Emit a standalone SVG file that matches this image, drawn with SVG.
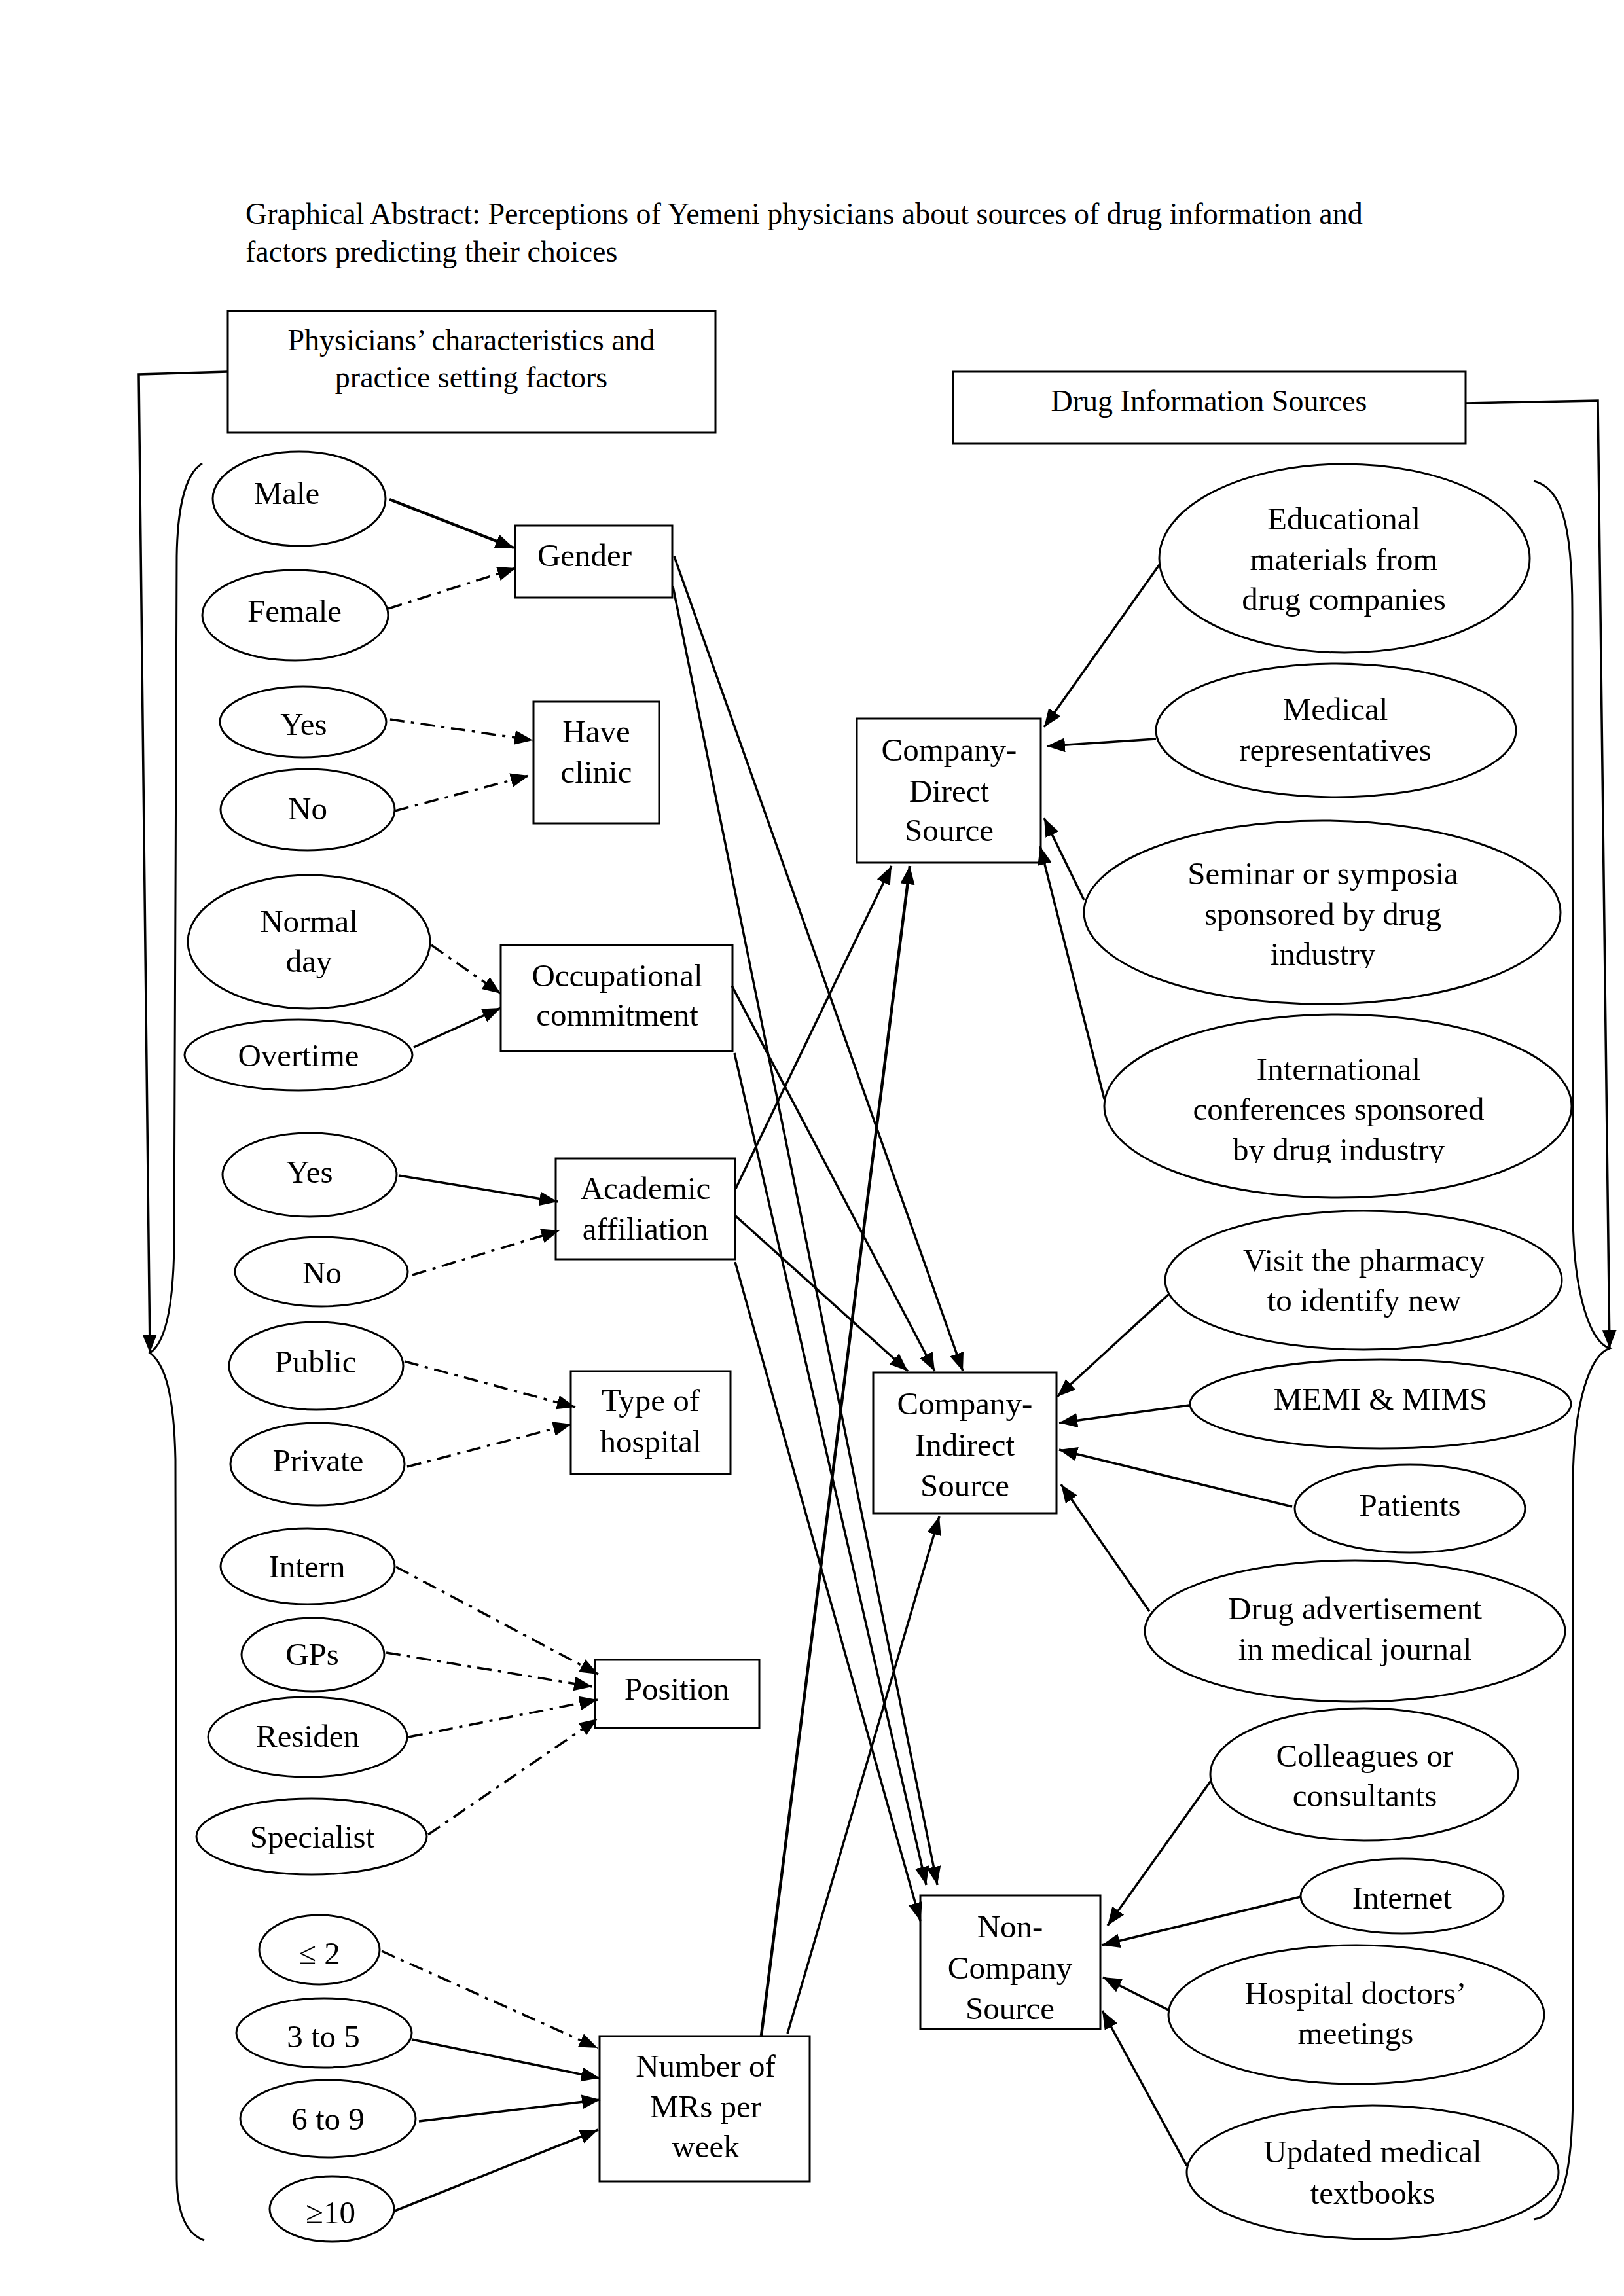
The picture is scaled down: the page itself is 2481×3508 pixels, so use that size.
<svg xmlns="http://www.w3.org/2000/svg" width="2481" height="3508" viewBox="0 0 2481 3508">
<style>
.shape{fill:#fff;stroke:#000;stroke-width:3}
.t{font-family:"Liberation Serif","Times New Roman",serif;font-size:49px;fill:#000;text-anchor:middle}
.h{font-family:"Liberation Serif","Times New Roman",serif;font-size:46px;fill:#000}
.c{stroke:#000;stroke-width:3.5;fill:none}
.dd{stroke-dasharray:22 10 5 10}
.brace{stroke:#000;stroke-width:3;fill:none}
</style>
<defs>
<marker id="ah" markerUnits="userSpaceOnUse" markerWidth="30" markerHeight="24" refX="28" refY="11" orient="auto" viewBox="0 0 30 24">
<path d="M0,0 L28,11 L0,22 z" fill="#000"/>
</marker>
<clipPath id="clipSem"><rect x="1650" y="1250" width="740" height="229"/></clipPath>
<clipPath id="clipInt"><rect x="1680" y="1545" width="730" height="232"/></clipPath>
</defs>
<rect width="2481" height="3508" fill="#fff"/>

<g id="title">
<text class="h" x="375" y="342">Graphical Abstract: Perceptions of Yemeni physicians about sources of drug information and</text>
<text class="h" x="375" y="400">factors predicting their choices</text>
</g>

<g id="header-left">
<rect class="shape" x="348" y="475" width="745" height="186"/>
<text class="h" x="720" y="535" text-anchor="middle">Physicians’ characteristics and</text>
<text class="h" x="720" y="592" text-anchor="middle">practice setting factors</text>
</g>
<g id="header-right">
<rect class="shape" x="1456" y="568" width="783" height="110"/>
<text class="h" x="1847" y="628" text-anchor="middle">Drug Information Sources</text>
</g>

<g id="braces">
<path class="brace" d="M309,708 C282,724 271,780 270,850 L266,1900 C265,2000 252,2052 229,2067 C252,2084 266,2130 268,2230 L270,3330 C271,3390 290,3415 312,3423"/>
<path class="brace" d="M2343,735 C2385,745 2402,800 2402,933 L2403,1857 C2404,1980 2430,2050 2459,2060 C2430,2070 2404,2140 2403,2264 L2403,3188 C2403,3330 2385,3385 2343,3391"/>
</g>

<g id="n-male"><ellipse class="shape" cx="457" cy="762" rx="132" ry="72"/><text class="t" x="438" y="770">Male</text></g>
<g id="n-female"><ellipse class="shape" cx="451" cy="940" rx="142" ry="69"/><text class="t" x="450" y="950">Female</text></g>
<g id="n-gender"><rect class="shape" x="787" y="803" width="240" height="110"/><text class="t" x="893" y="865">Gender</text></g>

<g id="n-clinic-yes"><ellipse class="shape" cx="463" cy="1103" rx="127" ry="54"/><text class="t" x="464" y="1123">Yes</text></g>
<g id="n-clinic-no"><ellipse class="shape" cx="470" cy="1237" rx="133" ry="62"/><text class="t" x="470" y="1252">No</text></g>
<g id="n-clinic"><rect class="shape" x="815" y="1072" width="192" height="186"/><text class="t" x="911" y="1134">Have</text><text class="t" x="911" y="1196">clinic</text></g>

<g id="n-normal"><ellipse class="shape" cx="472" cy="1439" rx="185" ry="102"/><text class="t" x="472" y="1424">Normal</text><text class="t" x="472" y="1485">day</text></g>
<g id="n-overtime"><ellipse class="shape" cx="456" cy="1612" rx="174" ry="54"/><text class="t" x="456" y="1629">Overtime</text></g>
<g id="n-occ"><rect class="shape" x="765" y="1444" width="354" height="162"/><text class="t" x="943" y="1507">Occupational</text><text class="t" x="943" y="1567">commitment</text></g>

<g id="n-acad-yes"><ellipse class="shape" cx="473" cy="1795" rx="133" ry="64"/><text class="t" x="473" y="1807">Yes</text></g>
<g id="n-acad-no"><ellipse class="shape" cx="491" cy="1943" rx="132" ry="53"/><text class="t" x="492" y="1961">No</text></g>
<g id="n-acad"><rect class="shape" x="849" y="1770" width="274" height="154"/><text class="t" x="986" y="1832">Academic</text><text class="t" x="986" y="1894">affiliation</text></g>

<g id="n-public"><ellipse class="shape" cx="483" cy="2087" rx="133" ry="67"/><text class="t" x="482" y="2097">Public</text></g>
<g id="n-private"><ellipse class="shape" cx="485" cy="2237" rx="133" ry="63"/><text class="t" x="486" y="2248">Private</text></g>
<g id="n-type"><rect class="shape" x="872" y="2095" width="244" height="157"/><text class="t" x="994" y="2156">Type of</text><text class="t" x="994" y="2219">hospital</text></g>

<g id="n-intern"><ellipse class="shape" cx="470" cy="2393" rx="133" ry="58"/><text class="t" x="469" y="2410">Intern</text></g>
<g id="n-gps"><ellipse class="shape" cx="478" cy="2528" rx="109" ry="56"/><text class="t" x="477" y="2544">GPs</text></g>
<g id="n-residen"><ellipse class="shape" cx="470" cy="2654" rx="152" ry="61"/><text class="t" x="470" y="2669">Residen</text></g>
<g id="n-specialist"><ellipse class="shape" cx="476" cy="2806" rx="176" ry="58"/><text class="t" x="477" y="2823">Specialist</text></g>
<g id="n-position"><rect class="shape" x="909" y="2536" width="251" height="104"/><text class="t" x="1034" y="2597">Position</text></g>

<g id="n-le2"><ellipse class="shape" cx="488" cy="2979" rx="92" ry="53"/><text class="t" x="488" y="3001">≤ 2</text></g>
<g id="n-3to5"><ellipse class="shape" cx="495" cy="3106" rx="134" ry="53"/><text class="t" x="494" y="3128">3 to 5</text></g>
<g id="n-6to9"><ellipse class="shape" cx="501" cy="3237" rx="134" ry="59"/><text class="t" x="501" y="3254">6 to 9</text></g>
<g id="n-ge10"><ellipse class="shape" cx="507" cy="3375" rx="95" ry="50"/><text class="t" x="505" y="3397">≥10</text></g>
<g id="n-mrs"><rect class="shape" x="916" y="3111" width="321" height="222"/><text class="t" x="1078" y="3173">Number of</text><text class="t" x="1078" y="3235">MRs per</text><text class="t" x="1078" y="3296">week</text></g>

<g id="n-cd"><rect class="shape" x="1309" y="1098" width="281" height="220"/><text class="t" x="1450" y="1162">Company-</text><text class="t" x="1450" y="1225">Direct</text><text class="t" x="1450" y="1285">Source</text></g>
<g id="n-ci"><rect class="shape" x="1334" y="2097" width="280" height="215"/><text class="t" x="1474" y="2161">Company-</text><text class="t" x="1474" y="2224">Indirect</text><text class="t" x="1474" y="2286">Source</text></g>
<g id="n-nc"><rect class="shape" x="1406" y="2896" width="275" height="204"/><text class="t" x="1543" y="2960">Non-</text><text class="t" x="1543" y="3023">Company</text><text class="t" x="1543" y="3085">Source</text></g>

<g id="n-edu"><ellipse class="shape" cx="2054" cy="853" rx="283" ry="144"/><text class="t" x="2053" y="809">Educational</text><text class="t" x="2053" y="871">materials from</text><text class="t" x="2053" y="932">drug companies</text></g>
<g id="n-medrep"><ellipse class="shape" cx="2041" cy="1116" rx="275" ry="102"/><text class="t" x="2040" y="1100">Medical</text><text class="t" x="2040" y="1162">representatives</text></g>
<g id="n-seminar"><ellipse class="shape" cx="2020" cy="1394" rx="364" ry="140"/><text class="t" x="2021" y="1351">Seminar or symposia</text><text class="t" x="2021" y="1413">sponsored by drug</text><text class="t" x="2021" y="1474" clip-path="url(#clipSem)">industry</text></g>
<g id="n-intl"><ellipse class="shape" cx="2044" cy="1690" rx="357" ry="140"/><text class="t" x="2045" y="1650">International</text><text class="t" x="2045" y="1711">conferences sponsored</text><text class="t" x="2045" y="1773" clip-path="url(#clipInt)">by drug industry</text></g>

<g id="n-visit"><ellipse class="shape" cx="2083" cy="1956" rx="303" ry="106"/><text class="t" x="2084" y="1942">Visit the pharmacy</text><text class="t" x="2084" y="2003">to identify new</text></g>
<g id="n-memi"><ellipse class="shape" cx="2109" cy="2145" rx="291" ry="68"/><text class="t" x="2109" y="2154">MEMI &amp; MIMS</text></g>
<g id="n-patients"><ellipse class="shape" cx="2154" cy="2305" rx="176" ry="67"/><text class="t" x="2154" y="2316">Patients</text></g>
<g id="n-drugad"><ellipse class="shape" cx="2070" cy="2492" rx="321" ry="108"/><text class="t" x="2070" y="2474">Drug advertisement</text><text class="t" x="2070" y="2536">in medical journal</text></g>

<g id="n-colleagues"><ellipse class="shape" cx="2084" cy="2711" rx="235" ry="101"/><text class="t" x="2085" y="2699">Colleagues or</text><text class="t" x="2085" y="2760">consultants</text></g>
<g id="n-internet"><ellipse class="shape" cx="2142" cy="2897" rx="155" ry="57"/><text class="t" x="2142" y="2916">Internet</text></g>
<g id="n-hospital"><ellipse class="shape" cx="2072" cy="3078" rx="287" ry="106"/><text class="t" x="2071" y="3062">Hospital doctors’</text><text class="t" x="2071" y="3123">meetings</text></g>
<g id="n-updated"><ellipse class="shape" cx="2097" cy="3319" rx="284" ry="102"/><text class="t" x="2097" y="3304">Updated medical</text><text class="t" x="2097" y="3367">textbooks</text></g>

<g id="connectors">
<polyline class="c" points="348,568 212,572 229,2067" marker-end="url(#ah)"/>
<polyline class="c" points="2239,616 2441,612 2459,2060" marker-end="url(#ah)"/>
<line class="c" style="stroke-width:4.5" x1="595" y1="763" x2="785" y2="837" marker-end="url(#ah)"/>
<line class="c dd" x1="593" y1="930" x2="788" y2="868" marker-end="url(#ah)"/>
<line class="c dd" x1="596" y1="1099" x2="814" y2="1131" marker-end="url(#ah)"/>
<line class="c dd" x1="603" y1="1239" x2="808" y2="1185" marker-end="url(#ah)"/>
<line class="c dd" x1="659" y1="1444" x2="765" y2="1518" marker-end="url(#ah)"/>
<line class="c" x1="632" y1="1600" x2="765" y2="1540" marker-end="url(#ah)"/>
<line class="c" x1="609" y1="1796" x2="852" y2="1836" marker-end="url(#ah)"/>
<line class="c dd" x1="630" y1="1948" x2="855" y2="1880" marker-end="url(#ah)"/>
<line class="c dd" x1="618" y1="2080" x2="879" y2="2150" marker-end="url(#ah)"/>
<line class="c dd" x1="622" y1="2241" x2="873" y2="2176" marker-end="url(#ah)"/>
<line class="c dd" x1="605" y1="2394" x2="914" y2="2558" marker-end="url(#ah)"/>
<line class="c dd" x1="590" y1="2525" x2="905" y2="2577" marker-end="url(#ah)"/>
<line class="c dd" x1="624" y1="2654" x2="913" y2="2597" marker-end="url(#ah)"/>
<line class="c dd" x1="654" y1="2803" x2="913" y2="2626" marker-end="url(#ah)"/>
<line class="c dd" x1="583" y1="2981" x2="913" y2="3129" marker-end="url(#ah)"/>
<line class="c" x1="629" y1="3116" x2="916" y2="3175" marker-end="url(#ah)"/>
<line class="c" x1="640" y1="3241" x2="917" y2="3208" marker-end="url(#ah)"/>
<line class="c" x1="603" y1="3378" x2="914" y2="3254" marker-end="url(#ah)"/>
<line class="c" x1="1030" y1="850" x2="1471" y2="2095" marker-end="url(#ah)"/>
<line class="c" x1="1028" y1="896" x2="1432" y2="2880" marker-end="url(#ah)"/>
<line class="c" x1="1118" y1="1506" x2="1428" y2="2095" marker-end="url(#ah)"/>
<line class="c" x1="1122" y1="1609" x2="1415" y2="2880" marker-end="url(#ah)"/>
<line class="c" x1="1124" y1="1816" x2="1362" y2="1323" marker-end="url(#ah)"/>
<line class="c" x1="1124" y1="1858" x2="1387" y2="2095" marker-end="url(#ah)"/>
<line class="c" x1="1123" y1="1928" x2="1406" y2="2935" marker-end="url(#ah)"/>
<line class="c" style="stroke-width:4.5" x1="1163" y1="3110" x2="1390" y2="1323" marker-end="url(#ah)"/>
<line class="c" x1="1203" y1="3107" x2="1435" y2="2317" marker-end="url(#ah)"/>
<line class="c" x1="1771" y1="863" x2="1595" y2="1111" marker-end="url(#ah)"/>
<line class="c" x1="1766" y1="1129" x2="1599" y2="1140" marker-end="url(#ah)"/>
<line class="c" x1="1656" y1="1375" x2="1595" y2="1250" marker-end="url(#ah)"/>
<line class="c" x1="1687" y1="1679" x2="1589" y2="1293" marker-end="url(#ah)"/>
<line class="c" x1="1785" y1="1978" x2="1615" y2="2134" marker-end="url(#ah)"/>
<line class="c" x1="1817" y1="2147" x2="1618" y2="2174" marker-end="url(#ah)"/>
<line class="c" x1="1974" y1="2302" x2="1618" y2="2215" marker-end="url(#ah)"/>
<line class="c" x1="1756" y1="2462" x2="1621" y2="2268" marker-end="url(#ah)"/>
<line class="c" x1="1849" y1="2722" x2="1692" y2="2942" marker-end="url(#ah)"/>
<line class="c" x1="1987" y1="2898" x2="1683" y2="2972" marker-end="url(#ah)"/>
<line class="c" x1="1785" y1="3071" x2="1685" y2="3021" marker-end="url(#ah)"/>
<line class="c" x1="1813" y1="3309" x2="1684" y2="3072" marker-end="url(#ah)"/>
</g>
</svg>
